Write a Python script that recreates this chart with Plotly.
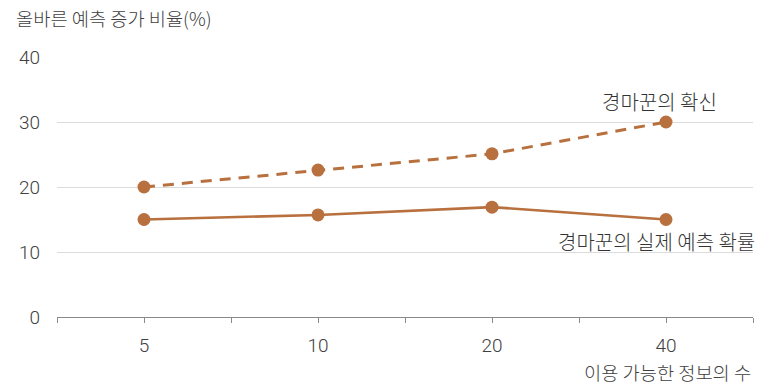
import plotly.graph_objects as go

categories = ["5", "10", "20", "40"]
confidence = [20, 22.6, 25.1, 30]
actual = [15, 15.7, 16.9, 15]
y_ticks = [0, 10, 20, 30, 40]

color = "#b8703e"
text_color = "#404040"
font_family = "Roboto, Liberation Sans, Noto Sans CJK KR, sans-serif"
kr_family = "Noto Sans CJK KR, sans-serif"
xpos = list(range(len(categories)))

fig = go.Figure()
fig.add_trace(go.Scatter(x=xpos, y=confidence, mode="lines+markers",
                         line=dict(color=color, width=3, dash="11px,8px"),
                         marker=dict(color=color, size=13), showlegend=False))
fig.add_trace(go.Scatter(x=xpos, y=actual, mode="lines+markers",
                         line=dict(color=color, width=2.6),
                         marker=dict(color=color, size=13), showlegend=False))

tickvals = [i * 0.5 - 0.5 for i in range(2 * len(categories) + 1)]
ticktext = [categories[int(v)] if v == int(v) and v >= 0 else "" for v in tickvals]

fig.update_layout(
    width=773, height=390,
    margin=dict(l=57, r=20, t=57, b=73),
    plot_bgcolor="white", paper_bgcolor="white",
    font=dict(family=font_family, size=19, color=text_color, weight=300),
    xaxis=dict(range=[-0.5, 3.5], tickvals=tickvals, ticktext=ticktext,
               showgrid=False, zeroline=False, showline=True, linecolor="#8a8a8a",
               linewidth=1.2, ticks="outside", ticklen=5, tickcolor="#8a8a8a",
               ticklabelstandoff=6, tickfont=dict(size=19, color=text_color, weight=300)),
    yaxis=dict(range=[0, 40], tickvals=y_ticks, showgrid=True, gridcolor="#dcdcdc",
               gridwidth=1, zeroline=False, showline=False, ticks="",
               ticklabelstandoff=16, tickfont=dict(size=19, color=text_color, weight=300)),
    annotations=[
        dict(text="올바른 예측 증가 비율(%)", xref="paper", yref="paper",
             x=-43/696, y=1 + 40/260, xanchor="left", yanchor="middle",
             showarrow=False, font=dict(family=kr_family, size=18.7, color=text_color, weight=300)),
        dict(text="이용 가능한 정보의 수", xref="paper", yref="paper",
             x=1, y=-54/260, xanchor="right", yanchor="middle",
             showarrow=False, font=dict(family=kr_family, size=18.7, color=text_color, weight=300)),
        dict(text="경마꾼의 확신", xref="x", yref="y", x=xpos[3] - 0.04, y=confidence[3] + 3.1,
             xanchor="center", yanchor="middle", showarrow=False,
             font=dict(family=kr_family, size=20, color="#333", weight=300)),
        dict(text="경마꾼의 실제 예측 확률", xref="paper", yref="y", x=1.006, y=actual[3] - 3.4,
             xanchor="right", yanchor="middle", showarrow=False,
             font=dict(family=kr_family, size=20, color="#333", weight=300)),
    ],
)

fig.write_html("out.html", config={"displayModeBar": False},
               post_script="document.body.style.margin='0';document.body.style.padding='0';")
